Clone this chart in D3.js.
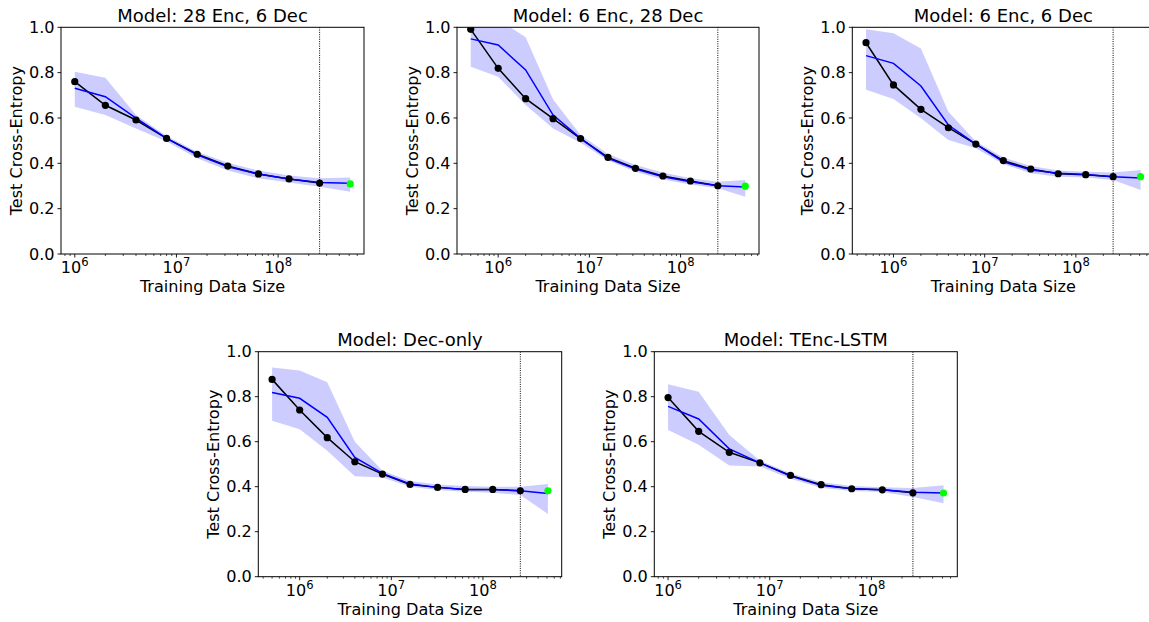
<!DOCTYPE html>
<html><head><meta charset="utf-8">
<script src="https://cdn.jsdelivr.net/npm/d3@7"></script>
<style>html,body{margin:0;padding:0;background:#fff;overflow:hidden}svg{display:block;font-family:"DejaVu Sans",sans-serif}</style>
</head><body>
<svg id="c" width="1149" height="622"></svg>
<script>
// ---- data ----
const titles = ["Model: 28 Enc, 6 Dec","Model: 6 Enc, 28 Dec","Model: 6 Enc, 6 Dec","Model: Dec-only","Model: TEnc-LSTM"];
const sizesFrom1M = [1e6,2e6,4e6,8e6,1.6e7,3.2e7,6.4e7,1.28e8,2.56e8,5.12e8];
const sizesFrom500K = [5e5,1e6,2e6,4e6,8e6,1.6e7,3.2e7,6.4e7,1.28e8,2.56e8,5.12e8];
const cutoffSize = 2.56e8;
const heldOutSize = 5.12e8;
const yTicks = [0,0.2,0.4,0.6,0.8,1.0];
const xTicks = [1e6,1e7,1e8];

// observed (black) points, up to cutoff
const obs1 = [0.760,0.656,0.591,0.510,0.440,0.388,0.353,0.331,0.313];
const obs2 = [0.991,0.819,0.685,0.597,0.509,0.426,0.378,0.344,0.322,0.301];
const obs3 = [0.932,0.746,0.638,0.557,0.485,0.412,0.375,0.354,0.350,0.341];
const obs4 = [0.877,0.741,0.618,0.511,0.456,0.410,0.397,0.388,0.388,0.382];
const obs5 = [0.796,0.646,0.553,0.506,0.450,0.409,0.391,0.386,0.373];
// held-out (green) point
const held = [0.309,0.299,0.341,0.382,0.372];
// fitted mean (blue)
const fit1 = [0.731,0.694,0.599,0.510,0.437,0.385,0.353,0.331,0.315,0.312];
const fit2 = [0.949,0.922,0.812,0.613,0.510,0.422,0.375,0.341,0.319,0.301,0.296];
const fit3 = [0.875,0.841,0.741,0.569,0.485,0.407,0.371,0.356,0.351,0.341,0.335];
const fit4 = [0.819,0.793,0.708,0.530,0.459,0.412,0.397,0.388,0.387,0.382,0.370];
const fit5 = [0.757,0.701,0.568,0.506,0.447,0.406,0.391,0.386,0.375,0.372];
// band lower / upper
const lo1 = [0.650,0.613,0.554,0.496,0.422,0.368,0.334,0.315,0.297,0.275];
const hi1 = [0.804,0.778,0.613,0.520,0.451,0.403,0.368,0.346,0.334,0.337];
const lo2 = [0.826,0.782,0.657,0.554,0.491,0.412,0.363,0.329,0.307,0.290,0.253];
const hi2 = [1.080,1.035,0.956,0.682,0.525,0.441,0.393,0.359,0.334,0.319,0.326];
const lo3 = [0.724,0.684,0.599,0.503,0.466,0.397,0.356,0.341,0.337,0.326,0.282];
const hi3 = [0.991,0.974,0.907,0.628,0.496,0.426,0.388,0.368,0.363,0.359,0.371];
const lo4 = [0.693,0.655,0.560,0.447,0.441,0.400,0.385,0.378,0.373,0.363,0.279];
const hi4 = [0.930,0.916,0.864,0.600,0.471,0.425,0.410,0.403,0.400,0.400,0.412];
const lo5 = [0.652,0.587,0.494,0.490,0.435,0.395,0.381,0.376,0.354,0.327];
const hi5 = [0.855,0.822,0.630,0.516,0.460,0.420,0.403,0.398,0.394,0.406];

const panels = [
  {title:titles[0], sizes:sizesFrom1M, obs:obs1, fit:fit1, lo:lo1, hi:hi1, held:held[0], L:61,  T:27.3, W:303, H:226.7},
  {title:titles[1], sizes:sizesFrom500K, obs:obs2, fit:fit2, lo:lo2, hi:hi2, held:held[1], L:457, T:27.3, W:302, H:226.7},
  {title:titles[2], sizes:sizesFrom500K, obs:obs3, fit:fit3, lo:lo3, hi:hi3, held:held[2], L:852.3, T:27.3, W:302, H:226.7},
  {title:titles[3], sizes:sizesFrom500K, obs:obs4, fit:fit4, lo:lo4, hi:hi4, held:held[3], L:258.3, T:351.7, W:303.4, H:225},
  {title:titles[4], sizes:sizesFrom1M, obs:obs5, fit:fit5, lo:lo5, hi:hi5, held:held[4], L:654.3, T:351.7, W:303, H:225}
];

const svg = d3.select("#c");
const defs = svg.append("defs");
const FS = 16.1;

panels.forEach((p,i)=>{
  const lmin = Math.log10(p.sizes[0]), lmax = Math.log10(p.sizes[p.sizes.length-1]);
  const m = (lmax-lmin)*0.05;
  const x = d3.scaleLog().domain([Math.pow(10,lmin-m), Math.pow(10,lmax+m)]).range([0,p.W]);
  const y = d3.scaleLinear().domain([0,1]).range([p.H,0]);
  const g = svg.append("g").attr("transform",`translate(${p.L},${p.T})`);
  defs.append("clipPath").attr("id","clip"+i).append("rect").attr("width",p.W).attr("height",p.H);
  const pg = g.append("g").attr("clip-path",`url(#clip${i})`);

  const band = p.sizes.map((s,k)=>({s, lo:p.lo[k], hi:p.hi[k]}));
  pg.append("path").datum(band)
    .attr("d", d3.area().x(d=>x(d.s)).y0(d=>y(d.lo)).y1(d=>y(d.hi)))
    .attr("fill","#0000ff").attr("fill-opacity",0.2).attr("stroke","none");

  pg.append("line").attr("x1",x(cutoffSize)).attr("x2",x(cutoffSize)).attr("y1",0).attr("y2",p.H)
    .attr("stroke","#000").attr("stroke-width",1).attr("stroke-dasharray","1,1.3");

  const obsD = p.obs.map((v,k)=>({s:p.sizes[k], v}));
  const fitD = p.fit.map((v,k)=>({s:p.sizes[k], v}));
  const line = d3.line().x(d=>x(d.s)).y(d=>y(d.v));
  pg.append("path").datum(obsD).attr("d",line).attr("fill","none").attr("stroke","#000").attr("stroke-width",1.5);
  pg.append("path").datum(fitD).attr("d",line).attr("fill","none").attr("stroke","#0000ff").attr("stroke-width",1.5);
  pg.selectAll("circle.o").data(obsD).enter().append("circle").attr("class","o")
    .attr("cx",d=>x(d.s)).attr("cy",d=>y(d.v)).attr("r",3.6).attr("fill","#000");
  pg.append("circle").attr("cx",x(heldOutSize)).attr("cy",y(p.held)).attr("r",3.6).attr("fill","#00ff00");

  // spines
  g.append("rect").attr("width",p.W).attr("height",p.H).attr("fill","none").attr("stroke","#000").attr("stroke-width",1);

  // y axis
  yTicks.forEach(t=>{
    g.append("line").attr("x1",-3.5).attr("x2",0).attr("y1",y(t)).attr("y2",y(t)).attr("stroke","#000").attr("stroke-width",0.9);
    g.append("text").attr("x",-6.5).attr("y",y(t)).attr("dy","0.36em").attr("text-anchor","end")
      .attr("font-size",FS).attr("fill","#000").text(t.toFixed(1));
  });
  // x axis major + minor
  const [d0,d1] = x.domain();
  for(let e=Math.floor(Math.log10(d0)); e<=Math.ceil(Math.log10(d1)); e++){
    for(let k=1;k<10;k++){
      const v = k*Math.pow(10,e);
      if(v<d0||v>d1) continue;
      const major = k===1;
      g.append("line").attr("x1",x(v)).attr("x2",x(v)).attr("y1",p.H).attr("y2",p.H+(major?3.5:2))
        .attr("stroke","#000").attr("stroke-width",major?0.9:0.7);
    }
  }
  xTicks.forEach(t=>{
    if(t<d0||t>d1) return;
    const tx = g.append("text").attr("x",x(t)).attr("y",p.H+19).attr("text-anchor","middle")
      .attr("font-size",FS).attr("fill","#000");
    tx.append("tspan").text("10");
    tx.append("tspan").attr("dy",-6.8).attr("font-size",FS*0.72).text(String(Math.round(Math.log10(t))));
  });
  g.append("text").attr("x",p.W/2).attr("y",p.H+38).attr("text-anchor","middle")
    .attr("font-size",FS).attr("fill","#000").text("Training Data Size");
  g.append("text").attr("transform",`translate(-39,${p.H/2}) rotate(-90)`).attr("text-anchor","middle")
    .attr("font-size",FS).attr("fill","#000").text("Test Cross-Entropy");
  g.append("text").attr("x",p.W/2).attr("y",-5.5).attr("text-anchor","middle")
    .attr("font-size",18).attr("fill","#000").text(p.title);
});
</script>
</body></html>
